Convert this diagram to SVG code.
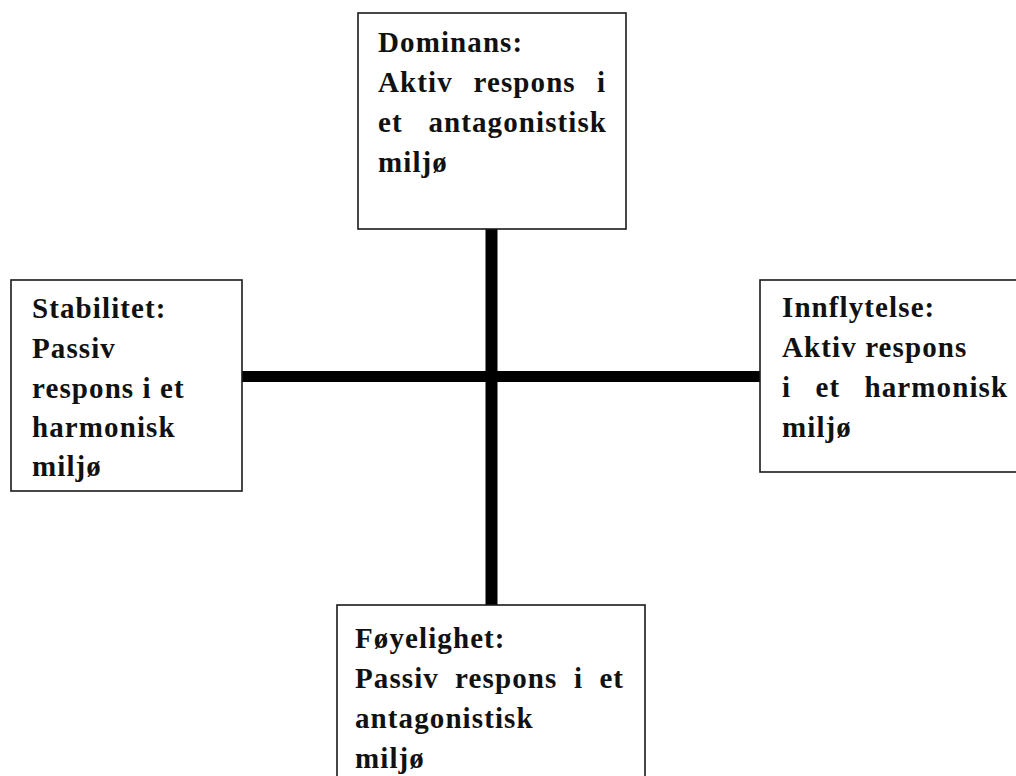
<svg xmlns="http://www.w3.org/2000/svg" width="1016" height="776" viewBox="0 0 1016 776">
<style>
.box{fill:#fff;stroke:#1a1a1a;stroke-width:1.6}
.t{font-family:"Liberation Serif","Times New Roman",serif;font-weight:bold;font-size:29px;letter-spacing:1.1px;fill:#111}
.bar{fill:#000}
</style>
<rect width="1016" height="776" fill="#fff"/>
<g id="connectors">
<rect class="bar" x="485.5" y="229" width="12" height="376"/>
<rect class="bar" x="242" y="371" width="518" height="11"/>
</g>
<g id="dominans">
<rect class="box" x="358" y="13" width="268" height="216"/>
<text class="t" x="378" y="52">Dominans:</text>
<text class="t" y="92"><tspan x="378">Aktiv</tspan><tspan x="473.5">respons</tspan><tspan x="596.9">i</tspan></text>
<text class="t" y="132"><tspan x="378">et</tspan><tspan x="428.4">antagonistisk</tspan></text>
<text class="t" x="378" y="172">miljø</text>
</g>
<g id="stabilitet">
<rect class="box" x="11" y="280" width="231" height="211"/>
<text class="t" x="32" y="318">Stabilitet:</text>
<text class="t" x="32" y="358">Passiv</text>
<text class="t" x="32" y="398">respons i et</text>
<text class="t" x="32" y="437">harmonisk</text>
<text class="t" x="32" y="476">miljø</text>
</g>
<g id="innflytelse">
<rect class="box" x="760" y="280" width="280" height="192"/>
<text class="t" x="782" y="317">Innflytelse:</text>
<text class="t" x="782" y="357">Aktiv respons</text>
<text class="t" y="397"><tspan x="782">i</tspan><tspan x="815.5">et</tspan><tspan x="864.5">harmonisk</tspan></text>
<text class="t" x="782" y="437">miljø</text>
</g>
<g id="foyelighet">
<rect class="box" x="337" y="605" width="308" height="200"/>
<text class="t" x="355" y="648">Føyelighet:</text>
<text class="t" y="688"><tspan x="355">Passiv</tspan><tspan x="455.1">respons</tspan><tspan x="574.1">i</tspan><tspan x="599.4">et</tspan></text>
<text class="t" x="355" y="728">antagonistisk</text>
<text class="t" x="355" y="768">miljø</text>
</g>
</svg>
